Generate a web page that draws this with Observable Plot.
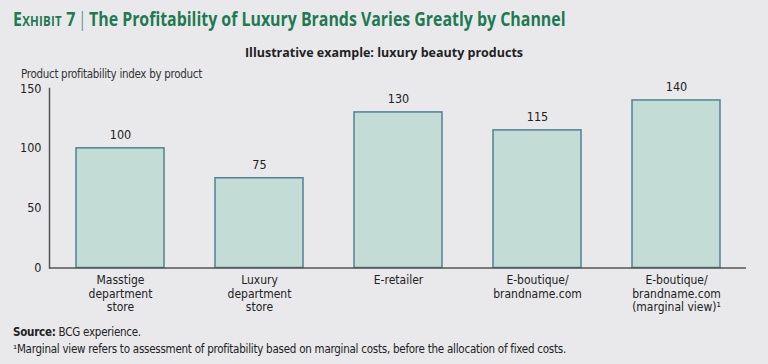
<!DOCTYPE html>
<html>
<head>
<meta charset="utf-8">
<script src="https://cdn.jsdelivr.net/npm/d3@7"></script>
<script src="https://cdn.jsdelivr.net/npm/@observablehq/plot@0.6"></script>
<style>
  html, body { margin: 0; padding: 0; background: #e9e9eb; }
  #wrap { position: relative; width: 768px; height: 364px; background: #e9e9eb; overflow: hidden;
          font-family: "DejaVu Sans Condensed", "Liberation Sans Narrow", sans-serif; color: #222; }
  .abs { position: absolute; white-space: nowrap; }
  #title { left: 13px; top: 5px; font-family: "Open Sans", sans-serif; font-weight: 700; font-size: 19.5px; color: #1d7a52;
           transform: scaleX(0.815); transform-origin: left center; }
  #title .ex { font-variant: small-caps; letter-spacing: 0.3px; }
  #title .sep { font-weight: 300; color: #1d7a52; margin: 0 3px; }
  #subtitle { left: 0; width: 768px; text-align: center; top: 44px; font-family: "Open Sans", sans-serif; font-weight: 700; font-size: 12.5px; color: #222; }
  #ylabel { left: 21px; top: 67px; font-size: 11.5px; letter-spacing: -0.3px; color: #333; }
  #chart { left: 0; top: 62px; }
  #foot { left: 13px; top: 324px; font-size: 11.5px; letter-spacing: -0.25px; line-height: 17px; color: #222; }
</style>
</head>
<body>
<div id="wrap">
  <div id="title" class="abs"><span class="ex">Exhibit 7</span><span class="sep">|</span>The Profitability of Luxury Brands Varies Greatly by Channel</div>
  <div id="subtitle" class="abs">Illustrative example: luxury beauty products</div>
  <div id="ylabel" class="abs">Product profitability index by product</div>
  <div id="chart" class="abs"></div>
  <div id="foot" class="abs"><b>Source:</b> BCG experience.<br>¹Marginal view refers to assessment of profitability based on marginal costs, before the allocation of fixed costs.</div>
</div>
<script>
const channels = [
  "Masstige\ndepartment\nstore",
  "Luxury\ndepartment\nstore",
  "E-retailer",
  "E-boutique/\nbrandname.com",
  "E-boutique/\nbrandname.com\n(marginal view)¹"
];
const values = [100, 75, 130, 115, 140];
const yTicks = [0, 50, 100, 150];

const data = channels.map((c, i) => ({channel: c, value: values[i]}));

const plot = Plot.plot({
  width: 768,
  height: 262,
  marginTop: 26,
  marginBottom: 56.5,
  marginLeft: 49,
  marginRight: 22,
  style: {background: "transparent", fontFamily: "'DejaVu Sans Condensed', 'Liberation Sans Narrow', sans-serif", fontSize: "12.5px", color: "#222"},
  x: {domain: channels, paddingInner: 0.37, paddingOuter: 0.18, label: null},
  y: {domain: [0, 150], label: null},
  marks: [
    Plot.barY(data, {x: "channel", y: "value", fill: "#c3ddd6", stroke: "#4f8198", strokeWidth: 1.5}),
    Plot.text(data, {x: "channel", y: "value", text: d => String(d.value), dy: -13, fontSize: 12.5, fill: "#222"}),
    Plot.axisY({ticks: yTicks, tickSize: 0, tickPadding: 8, fontSize: 12.5, label: null}),
    Plot.axisX({tickSize: 0, tickPadding: 7, fontSize: 12, lineHeight: 1.1, label: null}),
    Plot.ruleY([0], {stroke: "#555", strokeWidth: 1.5}),
    Plot.frame({anchor: "left", stroke: "#555", strokeWidth: 1.5})
  ]
});
document.getElementById("chart").appendChild(plot);
</script>
</body>
</html>
